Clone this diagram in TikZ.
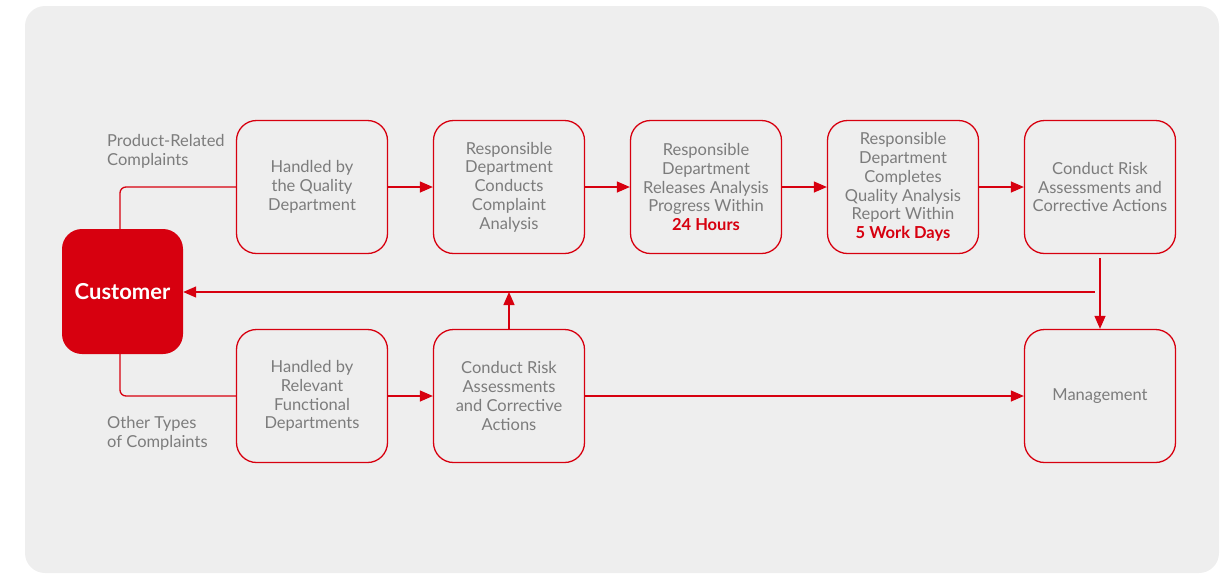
\documentclass[tikz,border=0pt]{standalone}
\usepackage{fontspec}
\setmainfont{Lato}
\usetikzlibrary{arrows.meta}
\definecolor{hred}{HTML}{D7000F}
\definecolor{bggray}{HTML}{EEEEEE}
\definecolor{txtgray}{HTML}{7C7C7C}
\tikzset{
  stepbox/.style={rectangle, rounded corners=20pt, draw=hred, fill=bggray, line width=1.3pt,
    minimum width=151pt, minimum height=133pt, align=center, text=txtgray,
    font=\fontsize{16.5}{18.7}\selectfont, inner sep=2pt},
  custbox/.style={rectangle, rounded corners=20pt, fill=hred, draw=none,
    minimum width=121pt, minimum height=125pt, text=white,
    font=\fontsize{22}{26}\selectfont\bfseries},
  lbl/.style={align=left, text=txtgray, font=\fontsize{16.5}{18.7}\selectfont, inner sep=0pt, anchor=west},
  conn/.style={draw=hred, line width=1.3pt},
  arr/.style={conn, -{Triangle[length=13pt,width=11pt]}}
}
\begin{document}
\begin{tikzpicture}[x=1pt,y=-1pt]
\useasboundingbox (0,0) rectangle (1226,574);
\fill[bggray, rounded corners=20pt] (25,6) rectangle (1219,573);

\node[custbox] (cust) at (122.5,291.5) {Customer};

\node[stepbox] (t1) at (312,187) {Handled by\\the Quality\\Department};
\node[stepbox] (t2) at (509,187) {Responsible\\Department\\Conducts\\Complaint\\Analysis};
\node[stepbox] (t3) at (706,187) {Responsible\\Department\\Releases Analysis\\Progress Within\\{\bfseries\color{hred}24 Hours}};
\node[stepbox] (t4) at (903,187) {Responsible\\Department\\Completes\\Quality Analysis\\Report Within\\{\bfseries\color{hred}5 Work Days}};
\node[stepbox] (t5) at (1100,187) {Conduct Risk\\Assessments and\\Corrective Actions};

\node[stepbox] (b1) at (312,396) {Handled by\\Relevant\\Functional\\Departments};
\node[stepbox] (b2) at (509,396) {Conduct Risk\\Assessments\\and Corrective\\Actions};
\node[stepbox] (mg) at (1100,396) {Management};

\node[lbl] (l1) at (107,151) {Product-Related\\Complaints};
\node[lbl] (l2) at (107,433) {Other Types\\of Complaints};

\coordinate (fbstart) at (1095,292);
\coordinate (vstart) at ([yshift=-4pt]t5.south);
\coordinate (cn) at ([xshift=-2.5pt]cust.north);
\coordinate (cs) at ([xshift=-2.5pt]cust.south);

\draw[conn, rounded corners=6pt] (cn) |- (t1.west);
\draw[conn, rounded corners=6pt] (cs) |- (b1.west);

\draw[arr] (t1) -- (t2);
\draw[arr] (t2) -- (t3);
\draw[arr] (t3) -- (t4);
\draw[arr] (t4) -- (t5);

\draw[arr] (b1) -- (b2);
\draw[arr] (b2) -- (mg);

\draw[arr] (fbstart) -- (fbstart -| cust.east);
\draw[arr] (b2.north) -- (b2.north |- fbstart);
\draw[arr] (vstart) -- (mg.north);
\end{tikzpicture}
\end{document}
